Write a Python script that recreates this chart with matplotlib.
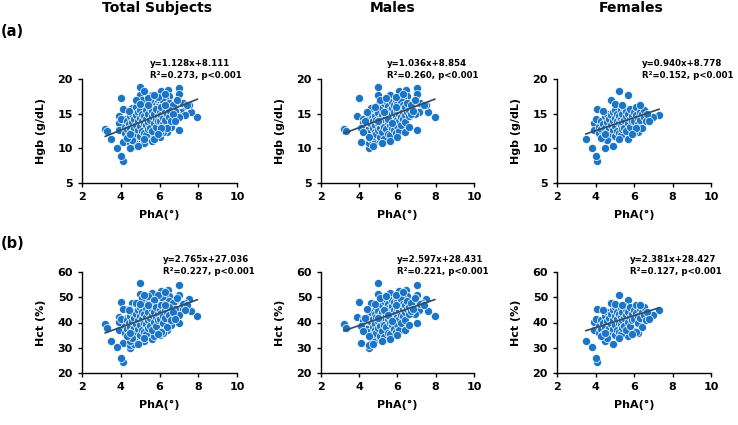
import numpy as np
import matplotlib
matplotlib.use('Agg')
import matplotlib.pyplot as plt

# ---- data (PhA, Hgb, Hct per subject) ----
male_pha = [3.2, 3.3, 5.0, 4.0, 5.0, 5.6, 6.1, 6.45, 7.0, 7.0,
            7.0, 7.95, 7.6, 7.5, 4.1, 4.5, 4.5, 3.9, 4.2, 7.3,
            7.1, 6.8, 6.6, 6.9, 7.2, 6.5, 6.3, 4.6, 4.8, 5.1,
            4.3, 4.4, 4.4, 4.5, 4.5, 4.6, 4.6, 4.7, 4.7, 4.7,
            4.8, 4.8, 4.8, 4.9, 4.9, 4.9, 5.0, 5.0, 5.0, 5.0,
            5.1, 5.1, 5.1, 5.2, 5.2, 5.2, 5.2, 5.3, 5.3, 5.3,
            5.3, 5.4, 5.4, 5.4, 5.4, 5.5, 5.5, 5.5, 5.5, 5.6,
            5.6, 5.6, 5.6, 5.7, 5.7, 5.7, 5.7, 5.8, 5.8, 5.8,
            5.8, 5.9, 5.9, 5.9, 5.9, 6.0, 6.0, 6.0, 6.0, 6.1,
            6.1, 6.1, 6.1, 6.2, 6.2, 6.2, 6.2, 6.3, 6.3, 6.3,
            6.4, 6.4, 6.4, 6.5, 6.5, 6.6, 6.6, 6.7, 6.7, 6.8,
            4.2, 4.3, 4.6, 4.4, 4.8, 5.1, 5.4, 5.9, 4.7, 5.2,
            5.6, 6.0, 6.4, 6.6, 5.0, 5.3, 5.5, 5.7, 5.9, 6.3,
            4.1, 4.2, 6.9, 7.4, 4.5]
male_hgb = [12.8, 12.5, 18.9, 17.3, 17.7, 17.7, 18.2, 18.4, 18.7, 17.8,
            12.6, 14.5, 15.2, 16.3, 10.9, 10.0, 10.7, 14.6, 14.3, 16.1,
            15.3, 16.6, 16.0, 15.0, 16.6, 17.5, 17.2, 11.3, 11.0, 11.2,
            13.2, 13.8, 12.6, 14.4, 12.2, 13.5, 14.9, 12.9, 13.9, 11.8,
            14.6, 13.3, 12.4, 15.6, 14.1, 12.0, 13.6, 15.1, 12.7, 16.2,
            14.4, 13.0, 11.6, 15.8, 14.8, 13.7, 12.3, 16.5, 14.2, 13.1,
            11.4, 15.4, 14.6, 12.8, 16.8, 13.8, 15.0, 12.1, 16.1, 14.3,
            15.6, 13.4, 11.9, 16.7, 14.9, 13.0, 15.8, 14.0, 16.3, 12.6,
            15.2, 14.7, 13.6, 16.9, 12.2, 15.5, 14.1, 16.4, 13.2, 15.0,
            16.0, 13.9, 12.5, 15.7, 14.5, 16.8, 13.3, 15.2, 14.3, 16.2,
            15.9, 14.8, 13.8, 16.5, 15.3, 14.6, 15.6, 16.2, 14.9, 15.4,
            13.6, 14.0, 15.8, 15.3, 16.0, 16.9, 17.2, 17.4, 10.4, 10.8,
            11.1, 11.6, 12.4, 13.1, 14.0, 15.3, 14.3, 13.7, 15.9, 17.8,
            13.0, 12.3, 16.9, 16.3, 11.6]
male_hct = [39.4, 37.7, 55.5, 48.0, 51.2, 51.5, 52.3, 53.0, 55.0, 50.8,
            39.9, 42.7, 44.4, 49.2, 31.8, 29.8, 31.1, 42.3, 41.5, 47.8,
            44.8, 48.6, 46.5, 43.4, 47.4, 50.5, 49.8, 34.0, 33.2, 33.8,
            39.0, 41.0, 37.5, 42.5, 36.4, 40.2, 44.0, 38.3, 41.5, 35.6,
            43.2, 39.6, 37.0, 46.0, 42.0, 36.0, 40.5, 44.7, 38.0, 47.6,
            43.0, 38.8, 34.8, 46.8, 44.0, 40.8, 36.6, 48.4, 42.2, 39.2,
            34.2, 45.6, 43.5, 38.2, 49.4, 41.2, 44.5, 36.0, 47.2, 42.6,
            46.2, 40.0, 35.3, 49.0, 44.2, 39.0, 46.5, 41.7, 48.0, 37.6,
            45.0, 43.6, 40.6, 50.0, 36.3, 45.8, 42.0, 48.2, 39.5, 44.6,
            47.0, 41.3, 37.2, 46.4, 43.0, 49.5, 40.0, 45.2, 42.4, 47.5,
            46.8, 44.0, 41.0, 48.5, 45.3, 43.2, 46.0, 47.6, 44.4, 45.5,
            40.4, 41.8, 47.8, 45.2, 47.4, 49.8, 50.6, 50.8, 31.5, 32.6,
            33.5, 35.0, 37.0, 39.0, 41.6, 45.0, 42.8, 40.6, 47.0, 52.0,
            38.6, 36.8, 49.6, 47.0, 34.6]

female_pha = [4.1, 4.0, 3.8, 3.5, 4.5, 4.9, 5.2, 5.7, 4.8, 4.1,
              7.3, 7.0, 5.7, 6.2, 6.0, 3.9, 3.9, 4.0, 4.2, 4.2,
              4.3, 4.3, 4.4, 4.4, 4.5, 4.5, 4.6, 4.6, 4.6, 4.7,
              4.7, 4.7, 4.8, 4.8, 4.8, 4.9, 4.9, 4.9, 5.0, 5.0,
              5.0, 5.0, 5.1, 5.1, 5.1, 5.2, 5.2, 5.2, 5.3, 5.3,
              5.3, 5.3, 5.4, 5.4, 5.4, 5.5, 5.5, 5.5, 5.6, 5.6,
              5.6, 5.7, 5.7, 5.8, 5.8, 5.8, 5.9, 5.9, 6.0, 6.0,
              6.1, 6.1, 6.2, 6.2, 6.3, 6.3, 6.4, 6.4, 6.5, 6.5,
              6.6, 6.7, 6.8, 4.4, 5.0, 5.4, 6.3, 6.1, 5.9, 4.6,
              5.2, 4.3, 4.5]
female_hgb = [8.2, 8.9, 10.1, 11.3, 10.0, 10.4, 18.2, 17.7, 16.9, 15.7,
              14.8, 14.5, 11.4, 12.3, 12.4, 13.7, 12.6, 14.2, 13.1, 12.2,
              14.0, 12.8, 13.5, 11.9, 14.6, 13.0, 12.4, 13.8, 15.0, 12.9,
              14.2, 11.6, 13.4, 14.8, 12.1, 13.9, 15.3, 12.7, 14.4, 13.2,
              11.8, 15.6, 14.0, 12.5, 15.0, 13.6, 14.7, 12.2, 15.5, 13.3,
              14.3, 11.9, 14.9, 13.8, 12.8, 15.8, 14.1, 13.0, 14.6, 15.4,
              12.5, 13.6, 14.9, 14.2, 15.7, 13.1, 14.7, 13.9, 15.2, 14.0,
              14.8, 15.9, 14.4, 13.5, 15.3, 14.1, 14.9, 13.0, 14.5, 15.6,
              13.9, 15.0, 14.0, 15.4, 16.4, 16.2, 16.2, 12.9, 12.0, 11.2,
              11.4, 11.5, 12.0]
female_hct = [24.3, 25.8, 30.3, 32.7, 32.7, 31.5, 50.9, 49.0, 47.8, 45.2,
              44.9, 42.8, 34.6, 35.8, 36.6, 40.2, 37.2, 41.5, 38.8, 36.0,
              41.0, 37.6, 39.8, 35.4, 42.6, 38.2, 36.8, 40.6, 44.0, 38.0,
              41.8, 35.0, 39.6, 43.4, 35.8, 40.8, 45.0, 37.4, 42.4, 39.0,
              35.2, 46.0, 41.2, 37.0, 44.2, 40.0, 43.4, 36.2, 45.6, 39.4,
              42.0, 35.6, 44.0, 40.8, 37.8, 46.4, 41.6, 38.6, 43.0, 45.4,
              37.0, 40.2, 44.0, 42.0, 46.2, 38.8, 43.4, 41.0, 44.8, 41.4,
              43.6, 46.8, 42.4, 39.8, 45.2, 41.8, 44.2, 38.2, 42.8, 46.2,
              41.0, 44.2, 41.4, 45.0, 47.4, 46.8, 47.0, 36.2, 35.4, 33.8,
              34.0, 34.6, 35.8]

# regression coefficients printed on the chart: (slope, intercept, R2)
hgb_fits = [(1.128, 8.111, 0.273), (1.036, 8.854, 0.260), (0.940, 8.778, 0.152)]
hct_fits = [(2.765, 27.036, 0.227), (2.597, 28.431, 0.221), (2.381, 28.427, 0.127)]

group_titles = ['Total Subjects', 'Males', 'Females']

total_pha = male_pha + female_pha
total_hgb = male_hgb + female_hgb
total_hct = male_hct + female_hct
groups = [(total_pha, total_hgb, total_hct),
          (male_pha, male_hgb, male_hct),
          (female_pha, female_hgb, female_hct)]

W, H = 738, 425
fig = plt.figure(figsize=(W / 100, H / 100), dpi=100)
plt.rcParams['font.family'] = 'DejaVu Sans'

dot = '#1b75c6'
line_c = '#34495e'

# axes boxes in pixels: (left, right) per column, (top, bottom) per row
cols = [(82, 237), (321, 474), (557, 711)]
rows = [(79, 183), (272, 373)]
# equation text anchor (left x, first line y) per panel
eq_pos = [[(150, 63), (387, 63), (642, 63)],
          [(163, 260), (397, 260), (630, 260)]]


def px_box(l, r, t, b):
    return [l / W, 1 - b / H, (r - l) / W, (b - t) / H]


for ri in range(2):
    for ci in range(3):
        pha, hgb, hct = groups[ci]
        yv = hgb if ri == 0 else hct
        slope, icpt, r2 = (hgb_fits if ri == 0 else hct_fits)[ci]
        ax = fig.add_axes(px_box(cols[ci][0], cols[ci][1], rows[ri][0], rows[ri][1]))
        ax.scatter(pha, yv, s=34, color=dot, edgecolor='white', linewidth=0.5, zorder=2)
        xs = np.array([min(pha), max(pha)])
        ax.plot(xs, slope * xs + icpt, color=line_c, lw=1.2, zorder=3)

        ax.set_xlim(2, 10)
        ax.set_xticks([2, 4, 6, 8, 10])
        if ri == 0:
            ax.set_ylim(5, 20)
            ax.set_yticks([5, 10, 15, 20])
            ax.set_ylabel('Hgb (g/dL)', fontsize=8, fontweight='bold', labelpad=8)
        else:
            ax.set_ylim(20, 60)
            ax.set_yticks([20, 30, 40, 50, 60])
            ax.set_ylabel('Hct (%)', fontsize=8, fontweight='bold', labelpad=8)
        ax.set_xlabel('PhA(°)', fontsize=8, fontweight='bold', labelpad=6)
        for s in ['top', 'right']:
            ax.spines[s].set_visible(False)
        for s in ['left', 'bottom']:
            ax.spines[s].set_linewidth(1.0)
        ax.tick_params(labelsize=8, length=3, width=1)
        for lab in ax.get_xticklabels() + ax.get_yticklabels():
            lab.set_fontweight('bold')

        ex, ey = eq_pos[ri][ci]
        fig.text(ex / W, 1 - ey / H, 'y=%.3fx+%.3f' % (slope, icpt),
                 fontsize=6.2, fontweight='bold', va='center', ha='left')
        fig.text(ex / W, 1 - (ey + 12) / H, 'R²=%.3f, p<0.001' % r2,
                 fontsize=6.2, fontweight='bold', va='center', ha='left')

# column titles and row labels
for ci, x in enumerate([157, 393, 631]):
    fig.text(x / W, 1 - 8 / H, group_titles[ci], fontsize=10, fontweight='bold',
             ha='center', va='center')
fig.text(1 / W, 1 - 32 / H, '(a)', fontsize=10.5, fontweight='bold', ha='left', va='center')
fig.text(1 / W, 1 - 243 / H, '(b)', fontsize=10.5, fontweight='bold', ha='left', va='center')

fig.savefig('out.png', dpi=100)
